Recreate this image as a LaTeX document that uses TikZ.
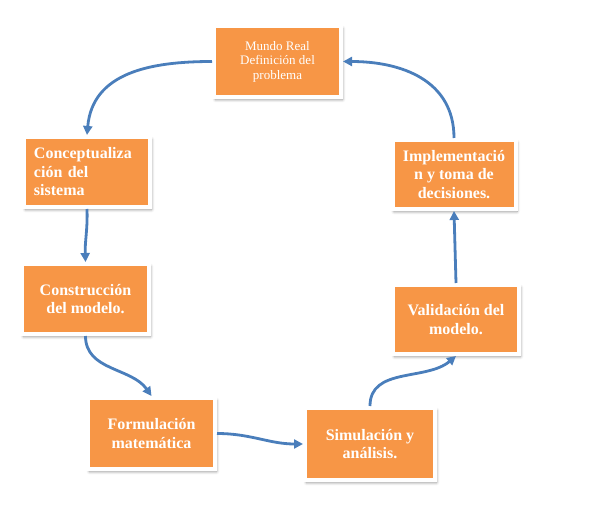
\documentclass[tikz,border=0pt]{standalone}
\usepackage{fontspec}
\setmainfont{Liberation Serif}
\newfontfamily\stagefont{Liberation Serif Bold}
\usetikzlibrary{arrows.meta,shadows.blur}
\definecolor{boxorange}{HTML}{F79646}
\definecolor{flowblue}{HTML}{4A7EBB}
\tikzset{
  stage/.style={rectangle, fill=boxorange, draw=white, line width=4pt,
    inner sep=0pt, text=white, font=\stagefont\fontsize{16}{18.5}\selectfont,
    align=center,
    blur shadow={shadow xshift=1.5pt, shadow yshift=-2.5pt, shadow opacity=45,
      shadow blur radius=3pt, shadow blur steps=6}},
  flow/.style={draw=flowblue, line width=2.8pt,
    -{Triangle[length=9pt,width=9pt]}}
}
\begin{document}
\begin{tikzpicture}[x=1pt,y=-1pt]
\useasboundingbox (0,0) rectangle (589,529);
% stages of the modelling cycle
\node[stage, minimum width=127pt, minimum height=71pt,
  font=\rmfamily\fontsize{13}{14.5}\selectfont] (mundo) at (277.5,61.5)
  {Mundo Real\\Definición del\\problema};
\node[stage, minimum width=126pt, minimum height=70pt, align=left,
  text width=106pt] (concept) at (87,172)
  {Conceptualiza\\ción del\\sistema};
\node[stage, minimum width=127pt, minimum height=70pt] (constr) at (85.5,299)
  {Construcción\\del modelo.};
\node[stage, minimum width=127pt, minimum height=71pt] (formul) at (151.5,433.5)
  {Formulación\\matemática};
\node[stage, minimum width=130pt, minimum height=72pt] (simul) at (370,444)
  {Simulación y\\análisis.};
\node[stage, minimum width=126pt, minimum height=69pt] (valid) at (456,319.5)
  {Validación del\\modelo.};
\node[stage, minimum width=123pt, minimum height=69pt] (implem) at (454,174.5)
  {Implementació\\n y toma de\\decisiones.};
% connectors
\draw[flow] (mundo.west) to[out=180,in=85,looseness=1.1] (concept.north);
\draw[flow] (concept.south) to[out=-88,in=92] (constr.north);
\draw[flow] (constr.south) to[out=-90,in=125] (formul.north);
\draw[flow] (formul.east) to[out=0,in=180] (simul.west);
\draw[flow] (simul.north) to[out=90,in=220] (valid.south);
\draw[flow] (valid.north) -- (implem.south);
\draw[flow] (implem.north) to[out=90,in=0,looseness=1.1] (mundo.east);
\end{tikzpicture}
\end{document}
